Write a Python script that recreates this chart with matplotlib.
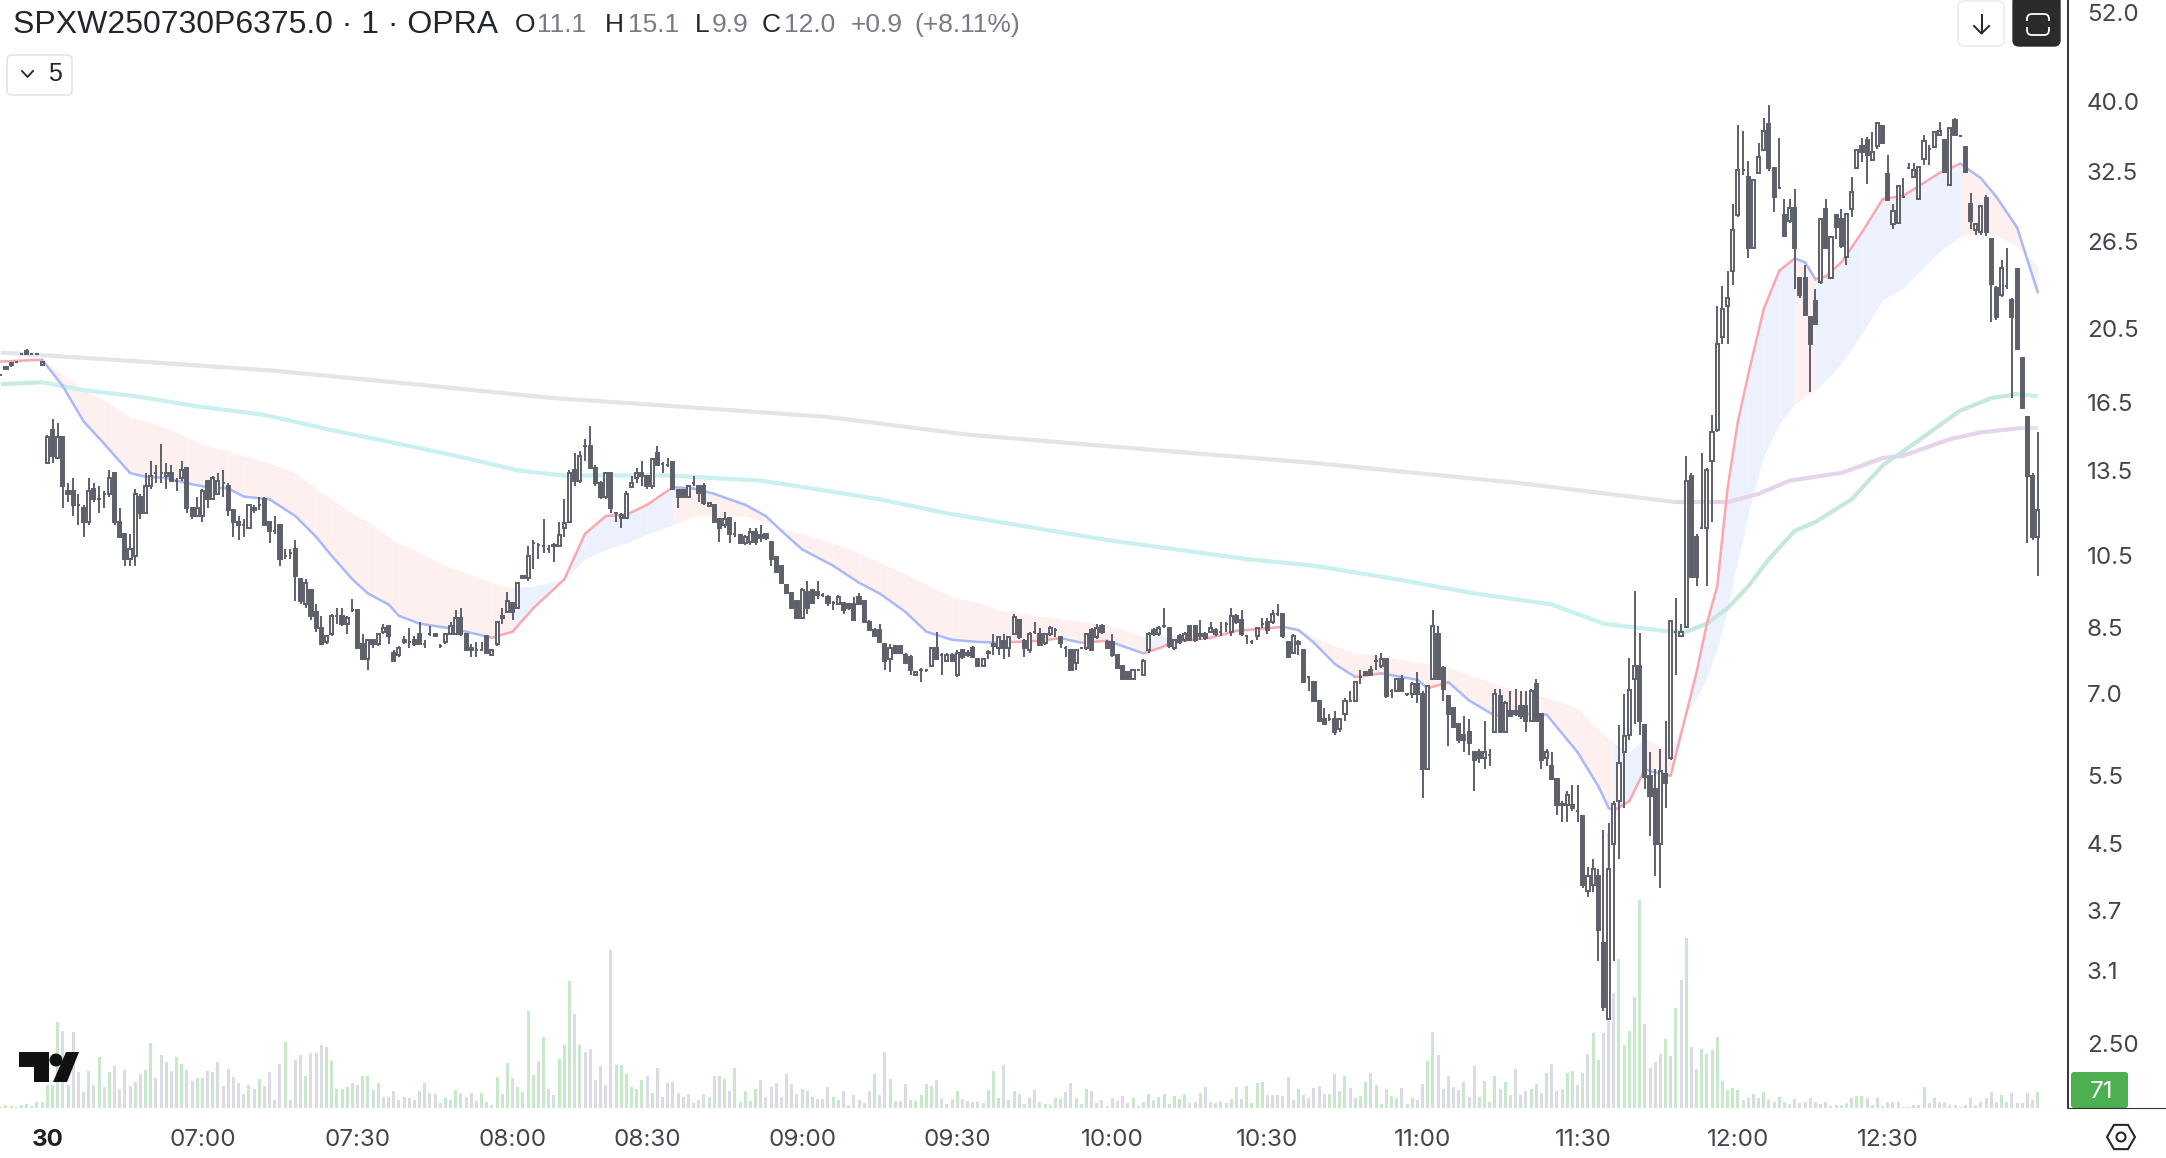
import numpy as np
import matplotlib
matplotlib.use("Agg")
import matplotlib.pyplot as plt
from matplotlib.patches import FancyBboxPatch, Polygon, Circle, RegularPolygon, Rectangle

opens = [17.9,18.3,18.4,18.55,19.0,19.2,19.0,19.0,18.4,
13.8,15.2,14.0,14.9,12.7,12.7,12.2,12.1,11.6,12.8,
12.4,12.6,12.6,13.4,11.6,11.2,10.4,10.5,12.5,11.9,
12.9,13.4,13.4,13.3,13.4,13.1,13.2,13.6,12.1,11.8,
11.8,13.1,12.4,12.6,13.0,12.9,12.0,11.6,11.5,11.4,
12.1,12.2,12.4,11.6,11.3,11.5,10.5,10.6,10.7,9.8,
9.1,9.5,8.9,8.5,8.15,8.35,8.8,8.8,8.6,8.95,
8.95,8.1,7.75,8.2,8.1,8.4,8.55,7.9,7.85,8.15,
8.15,8.2,8.35,8.1,8.35,8.35,8.05,8.15,8.35,8.35,
8.75,8.35,8.0,7.95,7.95,8.3,7.85,8.1,8.75,8.9,
9.15,9.0,9.85,9.85,10.9,10.85,10.8,10.7,10.8,10.8,
11.4,11.6,13.5,13.1,14.5,14.5,13.6,13.0,12.5,13.4,
11.9,11.75,11.75,12.85,13.2,13.4,13.3,12.9,14.2,13.75,
13.7,13.85,12.75,12.75,12.5,13.0,12.9,12.9,12.15,12.2,
11.7,11.5,11.75,11.2,11.15,10.9,10.95,11.25,11.15,11.2,
10.95,10.45,10.2,9.65,9.4,9.2,8.75,9.45,9.5,9.45,
9.35,9.3,9.15,9.1,9.15,9.1,9.1,9.3,9.2,8.65,
8.45,8.45,8.1,7.75,8.05,8.05,7.85,7.8,7.4,7.5,
7.5,7.6,8.0,7.85,7.7,7.85,7.4,7.95,7.9,8.0,
7.75,7.6,7.9,8.05,
8.0,8.18,8.0,8.35,8.7,8.18,7.95,8.4,8.35,8.12,
8.35,8.45,8.27,8.0,7.95,7.65,8.0,8.0,8.45,8.27,
8.55,8.15,8.15,7.85,7.6,7.45,7.3,7.5,7.4,7.95,
8.45,8.35,8.55,8.5,8.0,8.3,8.2,8.55,8.55,8.35,
8.35,8.4,8.45,8.4,8.6,8.4,8.8,8.7,8.3,8.15,
8.3,8.6,8.65,8.65,8.85,8.85,8.15,7.9,8.1,7.95,
7.35,7.25,6.85,6.5,6.5,6.5,6.3,6.6,6.85,6.85,
7.35,7.45,7.5,7.7,7.6,7.75,7.05,7.05,7.3,7.0,
7.0,7.2,7.0,5.6,7.3,8.35,7.55,6.95,6.7,6.4,
6.2,6.25,5.9,5.9,5.8,5.85,6.25,6.95,6.25,6.65,
6.65,6.75,6.75,6.45,7.2,6.6,5.8,5.65,5.45,5.05,
5.05,5.05,4.95,4.88,3.91,3.98,4.09,3.36,2.69,4.5,
5.1,5.89,6.2,7.3,7.59,6.38,5.49,5.29,4.5,5.53,
5.79,8.4,8.3,8.52,13.3,11.1,11.4,11.4,13.9,15.2,
20.0,21.9,24.3,28.6,32.7,32.0,26.0,32.4,34.7,37.4,
32.9,31.0,28.6,28.1,29.2,23.8,23.8,21.2,22.2,23.5,
29.1,23.8,28.6,28.3,25.3,29.1,32.9,35.1,35.7,33.7,
35.1,37.2,32.3,27.9,28.0,30.2,32.9,32.0,30.0,33.8,
34.8,35.0,36.2,35.7,31.3,37.9,36.1,35.0,29.6,27.4,
27.2,30.1,26.7,23.1,22.6,23.2,22.3,24.4,18.8,15.8,
13.3,11.1]

closes = [17.9,18.2,18.5,18.55,19.0,19.0,19.0,19.0,18.6,
14.9,14.1,14.9,12.9,12.6,12.2,12.2,11.6,12.7,12.4,
12.4,12.6,13.2,11.6,11.1,10.4,10.7,12.6,11.9,12.9,
13.3,13.4,13.4,13.4,13.1,13.1,13.5,12.1,11.8,12.1,
12.7,12.4,13.2,13.1,13.0,12.0,11.6,11.5,11.5,12.2,
12.0,12.2,11.5,11.3,11.3,10.4,10.5,10.6,9.9,9.2,
9.7,8.8,8.5,8.1,8.3,8.8,8.8,8.6,8.75,8.95,
8.0,7.75,8.2,8.1,8.35,8.5,8.3,7.7,8.0,8.2,
8.15,8.1,8.1,8.1,8.35,8.3,8.05,8.35,8.55,8.75,
8.35,7.95,7.95,7.95,7.95,7.9,7.95,8.65,8.8,9.2,
8.9,9.7,9.9,10.5,10.9,10.85,10.8,10.7,10.85,11.15,
11.55,13.4,13.1,14.1,14.5,13.6,13.0,12.5,13.4,12.1,
11.9,11.85,12.6,13.0,13.4,13.3,12.9,13.95,13.7,13.75,
13.7,12.8,12.5,12.5,12.9,13.0,12.65,12.25,12.25,11.6,
11.4,11.7,11.2,11.2,10.9,11.1,11.25,10.95,11.05,11.05,
10.4,10.0,9.7,9.4,9.0,8.75,9.5,9.0,9.15,9.35,
9.35,9.15,9.15,9.3,8.95,9.0,8.7,9.1,8.65,8.45,
8.3,8.15,7.7,8.0,7.9,7.9,7.65,7.5,7.45,7.5,
7.5,8.0,7.75,7.85,7.85,7.7,7.9,7.8,7.85,7.8,
7.6,7.75,7.9,8.1,
8.27,8.0,8.27,8.78,8.27,8.0,8.35,8.4,8.07,8.35,
8.5,8.45,8.12,8.0,7.5,7.95,8.0,8.35,7.95,8.5,
8.4,8.0,7.85,7.55,7.3,7.3,7.5,7.5,7.7,8.35,
8.35,8.5,8.55,8.05,8.2,8.15,8.35,8.2,8.2,8.3,
8.25,8.5,8.35,8.4,8.6,8.8,8.65,8.35,8.3,8.15,
8.5,8.6,8.45,8.85,8.85,8.3,7.8,8.3,8.15,7.25,
7.35,6.85,6.45,6.4,6.5,6.25,6.5,6.85,6.85,7.25,
7.35,7.4,7.4,7.7,7.75,6.95,7.05,7.3,7.05,7.0,
7.2,7.0,5.6,7.15,8.55,7.3,7.1,6.6,6.35,6.1,
6.1,6.05,5.75,5.8,5.9,5.85,7.0,6.25,6.8,6.55,
6.6,6.55,6.45,7.05,6.45,5.75,5.9,5.45,5.05,5.05,
5.2,5.0,4.95,3.98,4.09,4.18,3.49,2.78,4.18,5.06,
5.7,6.17,7.07,7.59,6.46,5.47,5.18,4.5,5.58,5.38,
8.67,8.4,8.4,13.1,9.87,9.87,11.4,13.5,15.1,19.6,
21.7,22.4,27.4,32.7,32.7,26.0,31.7,34.0,36.7,32.9,
30.2,31.0,26.9,29.2,26.0,22.6,21.3,19.6,20.8,28.3,
26.0,26.8,27.6,26.1,28.7,30.6,34.7,34.5,34.2,34.5,
37.5,35.4,29.9,29.0,31.2,30.2,32.9,32.7,33.0,35.6,
34.8,36.6,36.7,32.5,37.0,36.2,36.1,32.5,28.1,27.9,
29.4,27.2,23.4,21.2,24.5,23.2,21.2,19.3,16.2,13.3,
11.1,12.0]

highs = [17.9,18.3,18.6,18.6,19.0,19.3,19.0,19.0,18.6,
15.0,15.7,15.5,14.9,13.0,13.2,12.6,12.2,13.2,13.0,
12.9,12.7,13.5,13.4,12.1,11.2,11.2,12.8,12.6,13.4,
13.9,13.7,14.6,13.8,13.7,13.2,13.9,13.6,12.1,12.5,
12.8,13.1,13.3,13.4,13.5,13.0,12.0,11.8,11.7,12.2,
12.2,12.5,12.5,11.6,11.8,11.5,10.7,10.7,11.0,9.8,
9.8,9.5,9.1,8.8,8.3,8.85,9.0,9.0,8.8,9.25,
8.95,8.35,8.2,8.2,8.35,8.6,8.55,7.95,8.05,8.3,
8.5,8.3,8.65,8.2,8.55,8.35,8.1,8.35,8.65,8.95,
9.0,8.35,8.1,8.15,8.15,8.3,7.95,8.65,9.0,9.45,
9.15,9.7,9.9,10.8,11.0,10.9,11.7,10.85,10.9,11.6,
12.4,13.5,14.2,14.3,14.8,15.4,13.7,13.1,13.4,13.4,
11.95,11.9,12.7,13.3,13.6,13.9,13.3,14.0,14.5,13.85,
14.0,13.85,12.75,12.75,12.9,13.3,12.95,13.0,12.25,12.2,
11.75,11.95,11.75,11.6,11.15,11.15,11.4,11.4,11.5,11.2,
10.95,10.45,10.2,9.65,9.4,9.2,9.55,9.75,9.5,9.75,
9.4,9.35,9.2,9.35,9.15,9.1,9.3,9.4,9.2,8.7,
8.5,8.6,8.1,8.1,8.05,8.05,7.9,7.85,7.45,7.55,
7.5,8.0,8.4,7.9,7.9,7.9,7.95,7.95,7.95,8.05,
7.75,7.75,7.95,8.35,
8.3,8.33,8.27,8.85,8.7,8.22,8.4,8.65,8.5,8.35,
8.53,8.5,8.27,8.05,7.95,7.95,8.0,8.35,8.5,8.6,
8.6,8.2,8.35,7.85,7.6,7.45,7.5,7.5,7.75,8.4,
8.5,8.55,9.0,8.5,8.2,8.35,8.4,8.55,8.55,8.7,
8.4,8.65,8.5,8.65,8.65,9.0,8.85,8.95,8.3,8.2,
8.5,8.75,8.75,8.95,9.1,8.85,8.15,8.35,8.2,7.95,
7.35,7.25,6.85,6.7,6.6,6.65,6.5,6.9,7.05,7.25,
7.5,7.45,7.6,7.85,7.9,7.75,7.1,7.3,7.4,7.0,
7.25,7.45,7.05,7.15,8.95,8.55,7.6,6.95,6.7,6.4,
6.55,6.5,5.9,5.95,6.45,5.95,7.1,7.1,6.85,7.05,
7.1,7.05,7.05,7.1,7.3,6.6,5.95,5.9,5.45,5.1,
5.25,5.35,5.35,4.88,4.2,4.3,4.18,4.68,4.79,5.1,
6.38,7.0,7.77,9.47,8.36,6.38,5.89,5.6,5.95,6.46,
8.7,9.28,8.6,14.1,13.4,11.2,14.2,13.6,15.9,21.9,
23.2,24.3,29.6,37.3,36.7,33.6,31.8,35.4,38.1,39.6,
32.9,35.9,30.0,30.0,30.9,23.8,24.7,21.2,23.0,28.4,
30.0,26.9,28.7,29.1,28.8,32.0,34.8,35.9,36.0,36.5,
37.6,37.3,34.2,29.6,31.3,31.9,33.4,33.4,33.1,36.2,
35.2,36.7,37.6,35.8,37.1,38.1,36.2,35.0,30.5,28.0,
29.5,30.4,26.7,23.2,25.1,26.0,22.4,24.5,18.8,15.8,
13.4,15.1]

lows = [17.9,18.2,18.3,18.55,19.0,19.0,19.0,19.0,18.4,
13.8,13.8,14.0,12.1,12.3,11.8,11.5,11.1,11.5,12.3,
11.9,12.1,12.5,11.5,11.1,10.2,10.2,10.2,11.7,11.9,
12.8,13.0,13.0,12.8,13.1,12.7,13.1,11.9,11.7,11.8,
11.6,12.1,12.4,12.6,12.5,11.8,11.1,11.0,11.1,11.4,
11.9,12.0,11.5,10.9,11.2,10.2,10.4,10.4,9.2,9.1,
9.0,8.7,8.4,8.1,8.1,8.3,8.6,8.55,8.35,8.9,
8.0,7.75,7.5,8.0,8.05,8.35,8.1,7.7,7.8,8.1,
8.0,8.05,8.1,8.0,8.3,8.3,8.0,8.1,8.35,8.35,
8.3,7.95,7.8,7.8,7.95,7.9,7.85,8.05,8.6,8.9,
8.7,9.0,9.8,9.75,10.1,10.4,10.6,10.6,10.3,10.8,
11.1,11.6,12.9,13.0,13.9,13.6,12.9,12.4,12.4,11.9,
11.6,11.4,11.7,12.85,13.0,12.9,12.8,12.8,13.7,13.4,
13.65,12.8,12.1,12.5,12.5,12.9,12.3,12.2,12.15,11.6,
10.95,11.4,10.9,11.1,10.9,10.85,10.85,10.85,10.95,11.0,
10.2,10.0,9.7,9.4,9.0,8.75,8.75,8.85,9.1,9.25,
9.3,9.05,8.95,9.1,8.85,8.95,8.7,9.1,8.65,8.45,
8.3,8.15,7.5,7.45,7.9,7.9,7.65,7.4,7.4,7.25,
7.45,7.6,7.75,7.4,7.7,7.7,7.35,7.75,7.8,7.8,
7.6,7.6,7.75,7.85,
7.85,7.75,7.8,8.35,8.22,7.8,7.9,8.35,8.07,8.07,
8.3,8.27,8.0,7.8,7.5,7.5,8.0,7.95,7.95,8.22,
8.35,8.0,7.8,7.55,7.3,7.3,7.3,7.5,7.4,7.9,
8.3,8.3,8.5,8.0,7.95,8.1,8.15,8.2,8.15,8.2,
8.2,8.4,8.3,8.3,8.4,8.3,8.6,8.3,8.1,8.1,
8.2,8.5,8.35,8.6,8.8,8.25,7.8,7.9,7.85,7.25,
7.05,6.85,6.45,6.4,6.45,6.2,6.25,6.45,6.85,6.85,
7.2,7.4,7.4,7.5,7.55,6.9,6.9,7.05,7.05,6.95,
6.9,6.8,5.15,5.6,7.3,7.3,6.85,6.0,6.35,6.05,
5.9,5.85,5.25,5.7,5.6,5.65,6.25,6.25,6.25,6.55,
6.55,6.5,6.25,6.45,6.45,5.6,5.65,5.45,4.9,4.8,
4.8,4.95,4.8,3.95,3.85,3.9,3.19,2.75,2.69,3.19,
4.3,5.0,6.1,6.4,6.2,5.29,4.6,4.09,3.95,5.0,
5.75,7.4,8.3,8.5,9.85,9.6,11.35,9.6,11.6,15.1,
19.6,19.6,23.3,28.5,32.2,25.2,25.9,32.4,34.6,32.6,
28.9,30.9,26.8,28.0,23.0,22.4,21.3,17.0,20.8,23.4,
25.9,23.8,26.7,26.0,24.7,28.5,32.8,33.5,31.4,33.6,
34.8,35.3,29.8,27.5,28.0,30.1,32.8,31.9,29.9,33.2,
33.2,34.9,36.1,32.4,31.2,36.1,36.0,32.4,27.5,27.0,
27.0,26.9,20.9,21.0,22.5,23.0,16.7,19.3,16.2,10.9,
11.0,9.9]

volumes = [5,11,6,5,11,16,8,26,26,
105,105,398,357,105,353,163,73,171,105,236,96,166,194,85,175,98,119,155,174,302,
136,243,212,171,236,202,174,124,136,136,171,163,212,101,178,140,116,65,104,88,132,
101,163,36,202,305,34,222,243,147,253,253,290,282,217,88,88,96,113,104,147,147,82,
113,47,51,78,34,50,43,34,78,113,70,62,23,43,34,81,67,50,67,31,67,26,11,140,65,209,
136,96,73,450,150,217,329,85,57,225,290,589,434,290,259,271,129,194,104,733,198,198,
155,96,85,129,147,67,183,51,116,119,70,47,62,20,34,62,47,147,147,132,78,183,26,78,
31,88,127,47,96,116,50,155,109,62,88,78,50,39,42,96,50,36,78,12,59,36,23,78,155,59,
259,133,31,31,109,36,31,59,109,101,129,40,17,40,78,40,31,26,26,22,82,171,45,198,36,
78,64,17,45,82,26,17,12,45,40,73,115,45,17,87,78,22,36,8,45,31,54,22,45,8,26,64,36,
50,64,17,54,40,64,22,26,68,96,26,22,31,22,40,96,40,101,22,115,119,59,59,59,54,143,
36,87,59,45,91,101,64,64,157,78,147,91,45,54,119,161,105,17,87,54,45,91,17,45,36,110,
217,349,245,87,147,96,82,119,50,194,50,124,26,147,87,119,59,180,59,78,87,110,68,161,
203,78,87,161,168,106,159,248,345,221,345,1276,531,690,292,354,513,965,389,186,212,
248,319,239,460,593,788,283,177,274,248,266,327,124,80,89,80,35,44,62,44,71,35,27,50,
27,18,39,21,27,44,27,18,27,9,14,14,21,44,53,53,44,14,44,9,27,27,27,5,5,14,14,97,21,
44,27,27,14,14,5,14,44,14,27,44,71,27,57,27,67,21,21,67,35,71]

green_bars = [0,1,2,3,4,5,6,7,8,9,10,11,13,17,19,21,26,28,29,32,34,35,38,39,41,48,50,53,55,56,
59,63,64,65,66,67,68,70,71,73,77,78,80,82,86,87,88,93,96,98,100,101,102,103,105,107,108,
109,110,112,119,120,121,122,123,124,126,134,137,140,142,144,145,146,155,157,161,162,166,
169,172,173,177,178,179,180,183,185,190,191,192,193,195,196,199,202,203,204,208,209,210,
212,219,221,222,224,225,227,228,229,232,234,235,237,238,241,242,243,244,250,251,257,259,
260,262,263,264,266,267,269,270,272,273,276,277,283,286,287,288,289,291,296,299,303,304,
306,308,309,313,314,315,316,317,322,324,326,328,329,330,331,332,333,334,335,336,339,341,
344,347,358,359,360,363,372,374,387,394]

band_bars = [0,8,12,16,20,25,28,32,36,40,44,47,52,57,61,64,68,71,75,77,81,86,90,95,99,103,109,
113,117,121,125,130,134,138,144,148,151,155,161,166,170,175,179,184,189,193,201,205,209,
214,217,221,224,226,229,234,239,248,251,254,258,262,267,270,274,276,280,284,289,294,299,
305,309,311,312,315,318,320,323,326,328,330,332,334,336,337,338,341,344,347,349,351,353,
356,360,364,368,375,379,383,386,390,394]
fast_ema = [18.6,18.7,17.3,15.6,14.6,13.4,13.25,13.2,13.0,12.85,12.8,12.5,12.4,11.8,11.1,10.5,9.8,
9.4,9.1,8.8,8.6,8.5,8.4,8.25,8.4,9.0,9.8,11.2,11.8,11.85,12.2,12.85,12.8,12.6,12.2,11.8,11.3,
10.7,10.2,9.7,9.4,8.9,8.4,8.2,8.15,8.13,8.18,8.24,8.13,8.18,8.05,7.88,8.0,8.1,8.18,8.25,8.42,
8.52,8.44,8.13,7.64,7.35,7.43,7.37,7.29,7.11,7.24,6.86,6.56,6.6,6.58,5.89,5.33,5.0,4.96,5.1,
5.6,5.55,5.5,6.6,7.45,8.6,9.6,12.8,15.6,16.7,17.9,21.7,24.3,25.2,24.9,23.7,23.9,24.9,27.2,30.0,
30.3,32.4,33.3,31.9,30.2,27.6,22.8]
slow_ema = [18.6,18.7,17.9,17.1,16.6,15.8,15.6,15.3,14.9,14.5,14.3,14.1,13.8,13.4,12.8,12.4,11.9,
11.6,11.1,10.9,10.6,10.2,10.0,9.7,9.55,9.6,9.8,10.4,10.7,10.9,11.2,11.5,11.8,11.8,11.8,11.6,11.4,
11.2,10.9,10.6,10.3,9.95,9.65,9.3,9.15,8.96,8.79,8.72,8.66,8.55,8.45,8.28,8.3,8.3,8.3,8.32,8.42,
8.56,8.47,8.28,8.05,7.88,7.82,7.76,7.68,7.65,7.56,7.40,7.2,7.03,6.92,6.7,6.3,6.13,6.05,5.9,
6.13,6.05,5.9,6.6,6.9,7.35,8.0,8.97,10.4,11.05,11.9,14.1,15.5,16.4,16.8,17.1,17.6,18.5,20.2,22.3,
23.1,25.7,26.9,27.2,27.0,26.1,24.6]
pink_spans = [(95,99),(193,221),(254,311)]

long_a_bars = [0,27,53,80,107,125,160,187,214,254,294,324,330,334,340,346,356,364,368,377,383,391,394]
long_a = [19.1,18.6,18.1,17.4,16.7,16.4,15.8,15.0,14.5,13.8,13.0,12.3,12.3,12.3,12.6,13.1,13.4,14.0,14.1,14.8,15.1,15.3,15.3]
long_b_bars = [0,8,16,26,38,51,64,77,90,100,109,118,129,147,157,170,183,193,214,241,254,270,285,300,
310,323,326,330,334,338,342,347,351,358,364,370,379,385,390,394]
long_b = [17.4,17.5,17.1,16.8,16.3,15.9,15.2,14.6,14.0,13.5,13.3,13.3,13.3,13.1,12.8,12.4,11.9,11.6,11.0,
10.4,10.2,9.8,9.4,9.1,8.6,8.4,8.4,8.6,9.0,9.6,10.4,11.3,11.6,12.4,13.7,14.6,16.1,16.7,16.9,16.8]

price_ticks = [52.0,40.0,32.5,26.5,20.5,16.5,13.5,10.5,8.5,7.0,5.5,4.5,3.7,3.1,2.50]
price_tick_labels = ["52.0","40.0","32.5","26.5","20.5","16.5","13.5","10.5","8.5","7.0","5.5","4.5","3.7","3.1","2.50"]
time_ticks = [9,39,69,99,125,155,185,215,245,275,306,336,365]
time_tick_labels = ["30","07:00","07:30","08:00","08:30","09:00","09:30","10:00","10:30","11:00","11:30","12:00","12:30"]
last_volume = "71"

CANDLE = "#5d606b"
W, H = 2166, 1158
PANE_R, PANE_B = 2068, 1107.6
plt.rcParams["font.family"] = ["Inter", "DejaVu Sans"]
fig = plt.figure(figsize=(W / 100, H / 100), dpi=100, facecolor="white")
rect = [0, 1 - PANE_B / H, PANE_R / W, PANE_B / H]

vax = fig.add_axes(rect, zorder=1)
ax = fig.add_axes(rect, zorder=2, facecolor="none")
n = len(closes)
x = np.arange(n)
XLIM = (-0.155, 399.85)

# volume
greens = set(green_bars)
vcolor = ["#c8e8ca" if i in greens else "#dadbe4" for i in range(n)]
vax.bar(x, volumes, width=0.58, color=vcolor, linewidth=0)
vax.set_xlim(XLIM)
vax.set_ylim(0, 5139)
vax.axis("off")

# axes
ax.set_yscale("log")
ax.set_xlim(XLIM)
ax.set_ylim(2.07, 53.9)

# EMA ribbon, coloured by direction of the fast line
b = np.array(band_bars)
f = np.array(fast_ema)
s = np.array(slow_ema)
for k in range(len(b) - 1):
    up = f[k + 1] >= f[k]
    forced = any(a <= b[k] and b[k + 1] <= z for a, z in pink_spans)
    ax.fill_between(b[k:k + 2], f[k:k + 2], s[k:k + 2],
                    color="#edf1fe" if (up and not forced) else "#fff0f0", linewidth=0, zorder=1)
for k in range(len(b) - 1):
    up = f[k + 1] >= f[k]
    ax.plot(b[k:k + 2], f[k:k + 2], color="#f9a8ae" if up else "#a9b9f7", lw=1.8,
            solid_capstyle="round", zorder=3)

# long averages
la, lb = np.array(long_a_bars), np.array(long_b_bars)
ya, yb = np.array(long_a), np.array(long_b)
m = la <= 324
ax.plot(la[m], ya[m], color="#e5e5e7", lw=3, zorder=2, solid_capstyle="butt")
m = (la >= 324) & (la <= 391)
ax.plot(la[m], ya[m], color="#e6d3ec", lw=3, zorder=2, solid_capstyle="butt")
m = la >= 391
ax.plot(la[m], ya[m], color="#e5e5e7", lw=3, zorder=2, solid_capstyle="butt")
m = lb <= 8
ax.plot(lb[m], yb[m], color="#c6ebdf", lw=3, zorder=2, solid_capstyle="butt")
m = (lb >= 8) & (lb <= 323)
ax.plot(lb[m], yb[m], color="#c8f1ef", lw=3, zorder=2, solid_capstyle="butt")
m = (lb >= 323) & (lb <= 390)
ax.plot(lb[m], yb[m], color="#c6e8dc", lw=3, zorder=2, solid_capstyle="butt")
m = lb >= 390
ax.plot(lb[m], yb[m], color="#c8f1ef", lw=3, zorder=2, solid_capstyle="butt")

# candles
o, c, hi, lo = map(np.array, (opens, closes, highs, lows))
ax.vlines(x, lo, hi, color=CANDLE, lw=1.4, zorder=4)
bottom = np.minimum(o, c)
height = np.maximum(np.abs(c - o), 1e-3)
face = ["white" if c[i] > o[i] else CANDLE for i in range(n)]
ax.bar(x, height, bottom=bottom, width=0.6, color=face, edgecolor=CANDLE, linewidth=1.4, zorder=5)

# ticks
ax.minorticks_off()
ax.yaxis.tick_right()
ax.set_yticks(price_ticks)
ax.set_yticklabels(price_tick_labels)
ax.yaxis.set_minor_locator(matplotlib.ticker.NullLocator())
ax.tick_params(axis="y", length=0, pad=13.5, labelsize=17.4, labelcolor="#42454f")
ax.set_xticks(time_ticks)
ax.set_xticklabels(time_tick_labels)
ax.tick_params(axis="x", length=0, pad=15.5, labelsize=17.4, labelcolor="#42454f")
ax.get_xticklabels()[0].set_fontweight("bold")
ax.get_xticklabels()[0].set_color("#1e2028")
for sp in ("top", "left", "bottom"):
    ax.spines[sp].set_visible(False)
ax.spines["right"].set_color("#111111")
ax.spines["right"].set_linewidth(1.2)

# chrome, in figure pixels
ui = fig.add_axes([0, 0, 1, 1], zorder=3, facecolor="none")
ui.set_xlim(0, W)
ui.set_ylim(H, 0)
ui.axis("off")
ui.plot([PANE_R, W], [PANE_B, PANE_B], color="#333333", lw=0.8)

DARK, GREY = "#23252d", "#787b86"
ui.text(13, 25, "SPXW250730P6375.0 · 1 · OPRA", fontsize=23, color=DARK, va="center", family=["Liberation Sans"])
pieces = [(515, "O", DARK), (537, "11.1", GREY), (605, "H", DARK), (628, "15.1", GREY),
          (695, "L", DARK), (712, "9.9", GREY), (762, "C", DARK), (784, "12.0", GREY),
          (851, "+0.9", GREY), (914, "(+8.11%)", GREY)]
for px, t, col in pieces:
    ui.text(px, 25, t, fontsize=19, color=col, va="center", family=["Liberation Sans"])

ui.add_patch(FancyBboxPatch((7, 55), 65, 40, boxstyle="round,pad=0,rounding_size=5", fc="white", ec="#e3e4e8", lw=1.2))
ui.plot([22, 27.5, 33], [71, 77, 71], color="#23252d", lw=1.3)
ui.text(55, 74, "5", fontsize=18, color=DARK, ha="center", va="center", family=["Liberation Sans"])

ui.add_patch(FancyBboxPatch((1958, 1), 46, 45, boxstyle="round,pad=0,rounding_size=6", fc="white", ec="#eeeeef", lw=1.4))
ui.plot([1981.5, 1981.5], [15, 33], color="#23252d", lw=1.4)
ui.plot([1974, 1981.5, 1989], [26, 33.5, 26], color="#23252d", lw=1.4)
ui.add_patch(FancyBboxPatch((2013, -4), 47, 50, boxstyle="round,pad=0,rounding_size=6", fc="#2b2b2b", ec="#2b2b2b", lw=1))
ui.add_patch(FancyBboxPatch((2027, 14), 22, 21, boxstyle="round,pad=0,rounding_size=5", fc="none", ec="white", lw=1.3))
ui.add_patch(Rectangle((2024, 21), 28, 6, fc="#2b2b2b", ec="none"))

ui.add_patch(FancyBboxPatch((2071, 1072), 57, 36, boxstyle="round,pad=0,rounding_size=3", fc="#4caf50", ec="none"))
ui.text(2102, 1092, last_volume, fontsize=17.4, color="white", ha="center", va="center")

# logo
ui.add_patch(Polygon([(19, 1052), (49, 1052), (49, 1082), (34, 1082), (34, 1067), (19, 1067)], fc="#111111", ec="none"))
ui.add_patch(Circle((56, 1060), 6.5, fc="#111111", ec="none"))
ui.add_patch(Polygon([(66, 1052), (79, 1052), (67, 1082), (53, 1082)], fc="#111111", ec="none"))

# settings
ui.add_patch(RegularPolygon((2121, 1137), 6, radius=14, orientation=np.pi / 6, fc="none", ec="#26282f", lw=1.5))
ui.add_patch(Circle((2121, 1137), 4.5, fc="none", ec="#26282f", lw=1.5))

fig.savefig("out.png", dpi=100, facecolor="white")
